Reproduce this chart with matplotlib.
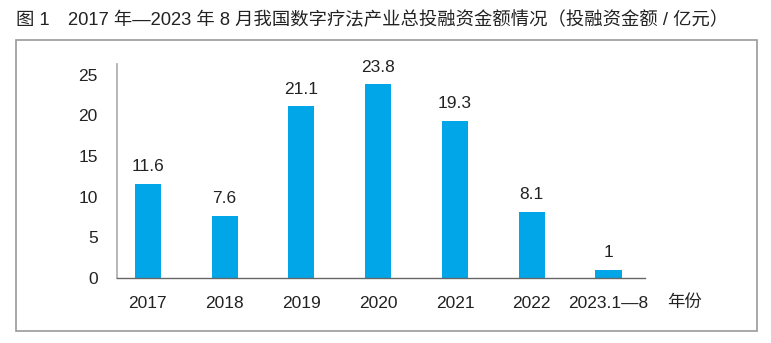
import matplotlib.pyplot as plt
from matplotlib.patches import Rectangle

plt.rcParams['font.family'] = ['Liberation Sans', 'Noto Sans CJK SC', 'DejaVu Sans']

years = ['2017', '2018', '2019', '2020', '2021', '2022', '2023.1—8']
amounts = [11.6, 7.6, 21.1, 23.8, 19.3, 8.1, 1]
value_labels = ['11.6', '7.6', '21.1', '23.8', '19.3', '8.1', '1']

fig = plt.figure(figsize=(7.71, 3.43), dpi=100)
ax = fig.add_axes([0.152, 0.19, 0.685, 0.623])

x = range(len(years))
bars = ax.bar(x, amounts, width=0.34, color='#00a6e8')
for b, lab in zip(bars, value_labels):
    ax.annotate(lab, (b.get_x() + b.get_width() / 2, b.get_height()),
                xytext=(0, 7), textcoords='offset points',
                ha='center', va='bottom', fontsize=12.5, color='#222222')

ax.set_xlim(-0.4, 6.48)
ax.set_ylim(0, 26.3)
ax.set_yticks([0, 5, 10, 15, 20, 25])
ax.set_xticks(list(x))
ax.set_xticklabels(years)
ax.tick_params(axis='both', length=0, labelsize=12.5, colors='#222222')
ax.tick_params(axis='y', pad=14)
ax.tick_params(axis='x', pad=13)
for s in ['top', 'right']:
    ax.spines[s].set_visible(False)
ax.spines['left'].set_color('#aaaaaa')
ax.spines['bottom'].set_color('#666666')
ax.spines['left'].set_linewidth(1.2)
ax.spines['bottom'].set_linewidth(1.0)

fig.text(667 / 771, 1 - 302 / 343, '年份', fontsize=12.5, color='#222222',
         ha='left', va='center')

fig.text(16 / 771, 1 - 20 / 343,
         '图 1　2017 年—2023 年 8 月我国数字疗法产业总投融资金额情况（投融资金额 / 亿元）',
         fontsize=13.2, color='#222222', ha='left', va='center')

fig.patches.append(Rectangle((16 / 771, 1 - 331 / 343), 741 / 771, 291 / 343,
                             transform=fig.transFigure, fill=False,
                             edgecolor='#999999', linewidth=1.2))

fig.savefig('out.png', dpi=100)
